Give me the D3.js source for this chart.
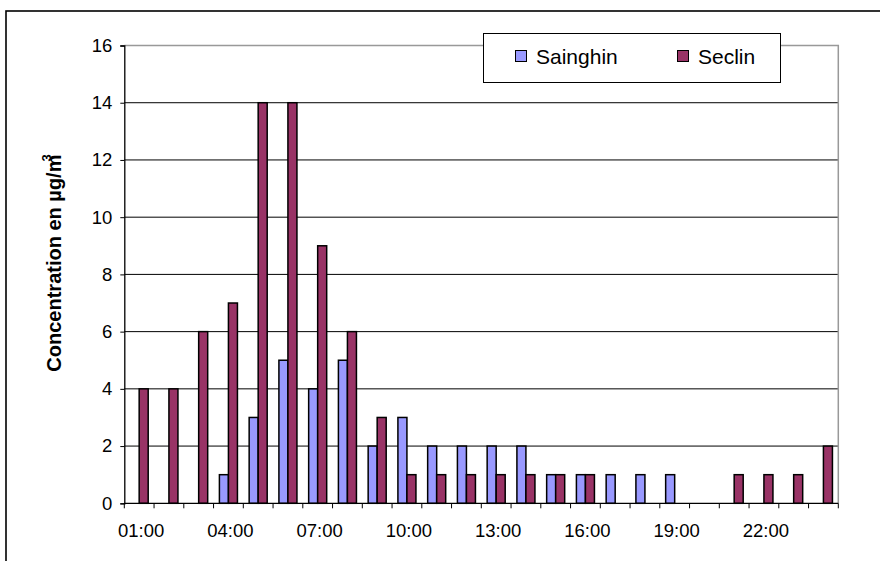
<!DOCTYPE html>
<html>
<head>
<meta charset="utf-8">
<script src="https://cdn.jsdelivr.net/npm/d3@7"></script>
<style>
  html, body { margin: 0; padding: 0; background: #fff; }
  svg { display: block; font-family: Arial, "Liberation Sans", sans-serif; }
</style>
</head>
<body>
<svg id="chart" width="880" height="561"></svg>
<script>
const categories = ["01:00","02:00","03:00","04:00","05:00","06:00","07:00","08:00","09:00","10:00","11:00","12:00",
                    "13:00","14:00","15:00","16:00","17:00","18:00","19:00","20:00","21:00","22:00","23:00","24:00"];
const seriesNames = ["Sainghin", "Seclin"];
const sainghin = [0,0,0,1,3,5,4,5,2,3,2,2,2,2,1,1,1,1,1,0,0,0,0,0];
const seclin   = [4,4,6,7,14,14,9,6,3,1,1,1,1,1,1,1,0,0,0,0,1,1,1,2];
const yTicks = [0,2,4,6,8,10,12,14,16];
const xTickLabels = ["01:00","04:00","07:00","10:00","13:00","16:00","19:00","22:00"];
const colors = { Sainghin: "#9999FF", Seclin: "#993366" };
const yTitle = "Concentration en µg/m";

const svg = d3.select("#chart");
const L = 124.3, R = 838.3, T = 45.5, B = 503.3;

// outer frame
svg.append("rect").attr("x", 6).attr("y", 11).attr("width", 900).attr("height", 600)
  .attr("fill", "#fff").attr("stroke", "#000").attr("stroke-width", 1.6);

const x0 = d3.scaleBand().domain(categories).range([L, R]).padding(0);
const x1 = d3.scaleBand().domain(seriesNames).range([0, x0.bandwidth()]).paddingInner(0).paddingOuter(0.65);
const y = d3.scaleLinear().domain([0, 16]).range([B, T]);

// gridlines
svg.append("g").selectAll("line").data(yTicks.filter(d => d > 0 && d < 16)).join("line")
  .attr("x1", L).attr("x2", R).attr("y1", d => y(d)).attr("y2", d => y(d))
  .attr("stroke", "#000").attr("stroke-width", 1);

// plot border (top & right gray)
svg.append("path")
  .attr("d", `M${L},${y(16)}H${R}V${B}`)
  .attr("fill", "none").attr("stroke", "#999").attr("stroke-width", 1.5);

// bars
const data = categories.map((c, i) => ({ cat: c, vals: [
  { name: "Sainghin", v: sainghin[i] }, { name: "Seclin", v: seclin[i] } ] }));

const groups = svg.append("g").selectAll("g").data(data).join("g")
  .attr("transform", d => `translate(${x0(d.cat)},0)`);
groups.selectAll("rect").data(d => d.vals.filter(e => e.v > 0)).join("rect")
  .attr("x", d => x1(d.name))
  .attr("width", x1.bandwidth())
  .attr("y", d => y(d.v))
  .attr("height", d => y(0) - y(d.v))
  .attr("fill", d => colors[d.name])
  .attr("stroke", "#000").attr("stroke-width", 1.5);

// y axis
const yAxis = d3.axisLeft(y).tickValues(yTicks).tickSize(4).tickPadding(8);
const gy = svg.append("g").attr("transform", `translate(${L},0)`).call(yAxis);
gy.select(".domain").attr("stroke", "#000").attr("stroke-width", 1.3);
gy.selectAll(".tick line").attr("stroke", "#000");
gy.selectAll("text").attr("font-size", 18.5).attr("fill", "#000")
  .attr("font-family", "Arial, 'Liberation Sans', sans-serif");

// x axis
const boundaries = categories.map(c => x0(c)).concat([R]);
const gx = svg.append("g");
gx.append("line").attr("x1", L).attr("x2", R).attr("y1", B).attr("y2", B)
  .attr("stroke", "#000").attr("stroke-width", 1.3);
gx.selectAll("line.tk").data(boundaries).join("line").attr("class", "tk")
  .attr("x1", d => d).attr("x2", d => d).attr("y1", B).attr("y2", B + 5)
  .attr("stroke", "#000").attr("stroke-width", 1);
gx.selectAll("text").data(xTickLabels).join("text")
  .attr("x", d => x0(d) + x0.bandwidth() / 2 + 2)
  .attr("y", B + 34)
  .attr("text-anchor", "middle")
  .attr("font-size", 18.5).attr("fill", "#000")
  .text(d => d);

// y title
const yt = svg.append("text")
  .attr("transform", `translate(61,263) rotate(-90)`)
  .attr("text-anchor", "middle")
  .attr("font-size", 20).attr("font-weight", "bold").attr("fill", "#000");
yt.append("tspan").text(yTitle);
yt.append("tspan").attr("font-size", 13).attr("dx", -7).attr("dy", -10).text("3");

// legend
const lg = svg.append("g");
lg.append("rect").attr("x", 483.5).attr("y", 33.5).attr("width", 297).attr("height", 49)
  .attr("fill", "#fff").attr("stroke", "#000").attr("stroke-width", 1);
const legendPos = [{ name: "Sainghin", x: 515 }, { name: "Seclin", x: 677 }];
legendPos.forEach(p => {
  lg.append("rect").attr("x", p.x + 0.5).attr("y", 50.5).attr("width", 11).attr("height", 11)
    .attr("fill", colors[p.name]).attr("stroke", "#000").attr("stroke-width", 1);
  lg.append("text").attr("x", p.x + 21).attr("y", 64).attr("font-size", 21).attr("fill", "#000").text(p.name);
});
</script>
</body>
</html>
